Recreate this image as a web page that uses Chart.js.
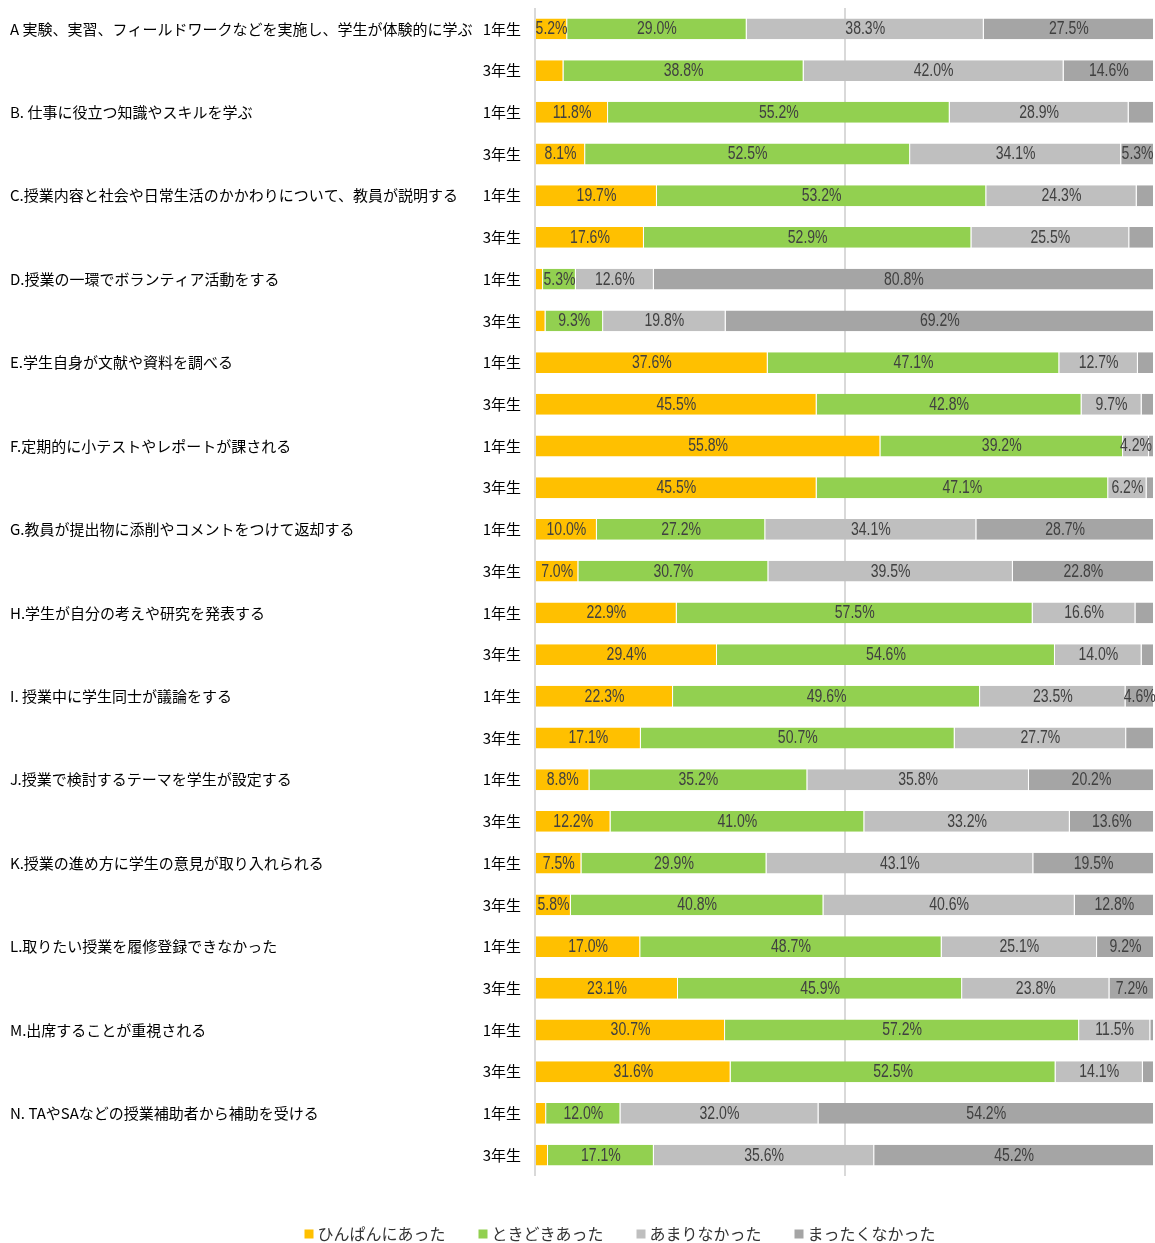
<!DOCTYPE html>
<html>
<head>
<meta charset="utf-8">
<script src="https://cdn.jsdelivr.net/npm/chart.js@4"></script>
<style>
html,body{margin:0;padding:0;background:#fff;}
#wrap{width:1155px;height:1243px;}
</style>
</head>
<body>
<div id="wrap"><canvas id="c" width="1155" height="1243"></canvas></div>
<script>
const items = [
  'A 実験、実習、フィールドワークなどを実施し、学生が体験的に学ぶ',
  'B. 仕事に役立つ知識やスキルを学ぶ',
  'C.授業内容と社会や日常生活のかかわりについて、教員が説明する',
  'D.授業の一環でボランティア活動をする',
  'E.学生自身が文献や資料を調べる',
  'F.定期的に小テストやレポートが課される',
  'G.教員が提出物に添削やコメントをつけて返却する',
  'H.学生が自分の考えや研究を発表する',
  'I. 授業中に学生同士が議論をする',
  'J.授業で検討するテーマを学生が設定する',
  'K.授業の進め方に学生の意見が取り入れられる',
  'L.取りたい授業を履修登録できなかった',
  'M.出席することが重視される',
  'N. TAやSAなどの授業補助者から補助を受ける'
];
const years = ['1年生', '3年生'];
const seriesNames = ['ひんぱんにあった', 'ときどきあった', 'あまりなかった', 'まったくなかった'];

const frequent  = [5.2, 4.6, 11.8, 8.1, 19.7, 17.6, 1.3, 1.7, 37.6, 45.5, 55.8, 45.5, 10.0, 7.0, 22.9, 29.4, 22.3, 17.1, 8.8, 12.2, 7.5, 5.8, 17.0, 23.1, 30.7, 31.6, 1.8, 2.1];
const sometimes = [29.0, 38.8, 55.2, 52.5, 53.2, 52.9, 5.3, 9.3, 47.1, 42.8, 39.2, 47.1, 27.2, 30.7, 57.5, 54.6, 49.6, 50.7, 35.2, 41.0, 29.9, 40.8, 48.7, 45.9, 57.2, 52.5, 12.0, 17.1];
const rarely    = [38.3, 42.0, 28.9, 34.1, 24.3, 25.5, 12.6, 19.8, 12.7, 9.7, 4.2, 6.2, 34.1, 39.5, 16.6, 14.0, 23.5, 27.7, 35.8, 33.2, 43.1, 40.6, 25.1, 23.8, 11.5, 14.1, 32.0, 35.6];
const never     = [27.5, 14.6, 4.1, 5.3, 2.8, 4.0, 80.8, 69.2, 2.6, 2.0, 0.8, 1.2, 28.7, 22.8, 3.0, 2.0, 4.6, 4.5, 20.2, 13.6, 19.5, 12.8, 9.2, 7.2, 0.6, 1.8, 54.2, 45.2];

// labels that are not shown in the reference: [seriesIndex, barIndex]
const hiddenLabels = [[0, 1], [3, 2], [3, 5], [3, 17]];
const colors = ['#FFC000', '#92D050', '#BFBFBF', '#A5A5A5'];

const barLabels = [];
items.forEach(() => years.forEach(y => barLabels.push(y)));
const allSeries = [frequent, sometimes, rarely, never];

const jpFont = "'Noto Sans CJK JP', 'Noto Sans', sans-serif";

const itemLabelPlugin = {
  id: 'itemLabels',
  afterDraw(chart) {
    const ctx = chart.ctx;
    const ys = chart.scales.y;
    ctx.save();
    ctx.font = '15px ' + jpFont;
    ctx.fillStyle = '#000';
    ctx.textAlign = 'left';
    ctx.textBaseline = 'middle';
    items.forEach((t, i) => {
      ctx.fillText(t, 10, ys.getPixelForValue(i * 2));
    });
    ctx.restore();
  }
};

const dataLabelPlugin = {
  id: 'dataLabels',
  afterDatasetsDraw(chart) {
    const ctx = chart.ctx;
    chart.data.datasets.forEach((ds, di) => {
      const meta = chart.getDatasetMeta(di);
      meta.data.forEach((el, i) => {
        const v = ds.data[i];
        if (v < 4.2) return;
        if (hiddenLabels.some(h => h[0] === di && h[1] === i)) return;
        const cx = (el.x + el.base) / 2;
        ctx.save();
        ctx.font = "18px 'Liberation Sans', Arial, sans-serif";
        ctx.fillStyle = '#404040';
        ctx.textAlign = 'center';
        ctx.textBaseline = 'middle';
        ctx.translate(cx, el.y + 0.5);
        ctx.scale(0.78, 1);
        ctx.fillText(v.toFixed(1) + '%', 0, 0);
        ctx.restore();
      });
    });
  }
};

const customLegend = {
  id: 'customLegend',
  afterDraw(chart) {
    const ctx = chart.ctx;
    ctx.save();
    ctx.font = '16px ' + jpFont;
    ctx.textBaseline = 'middle';
    ctx.textAlign = 'left';
    const box = 9, gapText = 4, gapItem = 33, cy = 1234, centerX = 620;
    const widths = seriesNames.map(n => ctx.measureText(n).width);
    const total = widths.reduce((a, w) => a + box + gapText + w, 0) + gapItem * (seriesNames.length - 1);
    let x = centerX - total / 2;
    seriesNames.forEach((n, i) => {
      ctx.fillStyle = colors[i];
      ctx.fillRect(x, cy - box / 2, box, box);
      ctx.fillStyle = '#333';
      ctx.fillText(n, x + box + gapText, cy);
      x += box + gapText + widths[i] + gapItem;
    });
    ctx.restore();
  }
};

new Chart(document.getElementById('c'), {
  type: 'bar',
  data: {
    labels: barLabels,
    datasets: allSeries.map((d, i) => ({
      label: seriesNames[i],
      data: d,
      backgroundColor: colors[i],
      borderColor: 'rgba(255,255,255,0.7)',
      borderWidth: {top: 0, bottom: 0, left: 0, right: 1},
      borderSkipped: false,
      categoryPercentage: 1,
      barPercentage: 0.5
    }))
  },
  options: {
    indexAxis: 'y',
    responsive: false,
    animation: false,
    devicePixelRatio: 1,
    layout: {padding: {top: 8, right: 1, left: 0, bottom: 0}},
    scales: {
      x: {
        stacked: true, min: 0, max: 100,
        ticks: {display: false, stepSize: 50},
        grid: {
          drawTicks: false,
          lineWidth: 2,
          color: c => (c.tick && c.tick.value === 100) ? 'rgba(0,0,0,0)' : '#D9D9D9'
        },
        border: {display: false},
        afterFit: s => { s.height = 67; s.paddingLeft = 0; s.paddingRight = 0; }
      },
      y: {
        stacked: true,
        grid: {display: false, drawTicks: false},
        border: {display: false},
        ticks: {font: {family: jpFont, size: 15}, color: '#000', padding: 14, autoSkip: false},
        afterFit: s => { s.width = 535; s.paddingTop = 0; s.paddingBottom = 0; }
      }
    },
    plugins: {
      legend: {display: false},
      tooltip: {enabled: false}
    }
  },
  plugins: [itemLabelPlugin, dataLabelPlugin, customLegend]
});
</script>
</body>
</html>
